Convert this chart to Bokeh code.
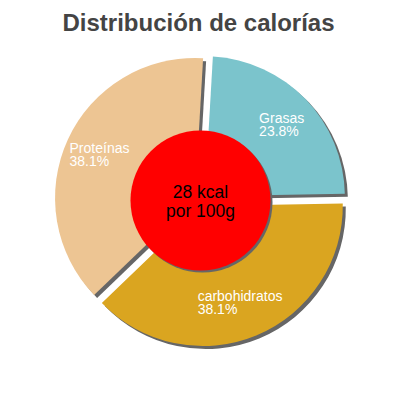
import math
from bokeh.plotting import figure
from bokeh.models import Range1d, ColumnDataSource
from bokeh.core.properties import value
from bokeh.embed import file_html
from bokeh.resources import INLINE

# ---- data ----
title_text = "Distribución de calorías"
categories = ["Grasas", "carbohidratos", "Proteínas"]
percentages = [23.8, 38.1, 38.1]
slice_colors = ["#7bc4cc", "#daa520", "#edc593"]
center_lines = ["28 kcal", "por 100g"]

# ---- layout ----
W = H = 384
cx, cy = 200.0, 184.0
R = 140.0
explode = 6.0
rotation = 3.3  # degrees clockwise from 12 o'clock
shadow_dx, shadow_dy = 3.0, -3.0
shadow_color = "#666666"

p = figure(width=W, height=H, x_range=Range1d(0, W), y_range=Range1d(0, H),
           output_backend="svg", toolbar_location=None, min_border=0,
           x_axis_location=None, y_axis_location=None)
p.grid.visible = False
p.outline_line_color = None
p.background_fill_color = "white"
p.border_fill_color = "white"

total = sum(percentages)
xs, ys, starts, ends, lx, ly, loff, ltext = [], [], [], [], [], [], [], []
acc = rotation
for cat, v in zip(categories, percentages):
    t1 = acc
    t2 = acc + 360.0 * v / total
    acc = t2
    mid = math.radians((t1 + t2) / 2)
    sx = cx + explode * math.sin(mid)
    sy = cy + explode * math.cos(mid)
    xs.append(sx)
    ys.append(sy)
    starts.append(math.radians(90 - t2))
    ends.append(math.radians(90 - t1))
    lines = [cat, f"{v:.1f}%"]
    lx.append(sx + 104 * math.sin(mid))
    ly.append(sy + 104 * math.cos(mid))
    loff.append(-0.5 * 6.9 * max(len(s) for s in lines))
    ltext.append("\n".join(lines))

src = ColumnDataSource(dict(x=xs, y=ys, start=starts, end=ends, color=slice_colors,
                            sx=[x + shadow_dx for x in xs], sy=[y + shadow_dy for y in ys],
                            lx=lx, ly=ly, loff=loff, ltext=ltext))

# shadows
p.wedge(x="sx", y="sy", radius=R, start_angle="start", end_angle="end",
        direction="anticlock", fill_color=shadow_color, line_color=None, source=src)
# slices
p.wedge(x="x", y="y", radius=R, start_angle="start", end_angle="end",
        direction="anticlock", fill_color="color", line_color=None, source=src)

# center circle with shadow
p.circle(x=[cx + 2], y=[cy - 2], radius=70, fill_color=shadow_color, line_color=None)
p.circle(x=[cx], y=[cy], radius=70, fill_color="#ff0000", line_color=None)

# slice labels
p.text(x="lx", y="ly", text="ltext", x_offset="loff", source=src,
       text_color="white", text_font=value("Liberation Sans"), text_font_size="14px",
       text_align="left", text_baseline="middle", text_line_height=0.8)

# center label
p.text(x=[cx], y=[cy - 1], text=["\n".join(center_lines)],
       text_color="black", text_font=value("Liberation Sans"), text_font_size="17.5px",
       text_align="center", text_baseline="middle", text_line_height=0.92)

# title
p.text(x=[198], y=[H - 8], text=[title_text], text_color="#444444",
       text_font=value("Liberation Sans"), text_font_style="bold", text_font_size="24px",
       text_align="center", text_baseline="top")

open("out.html", "w").write(file_html(p, INLINE))
